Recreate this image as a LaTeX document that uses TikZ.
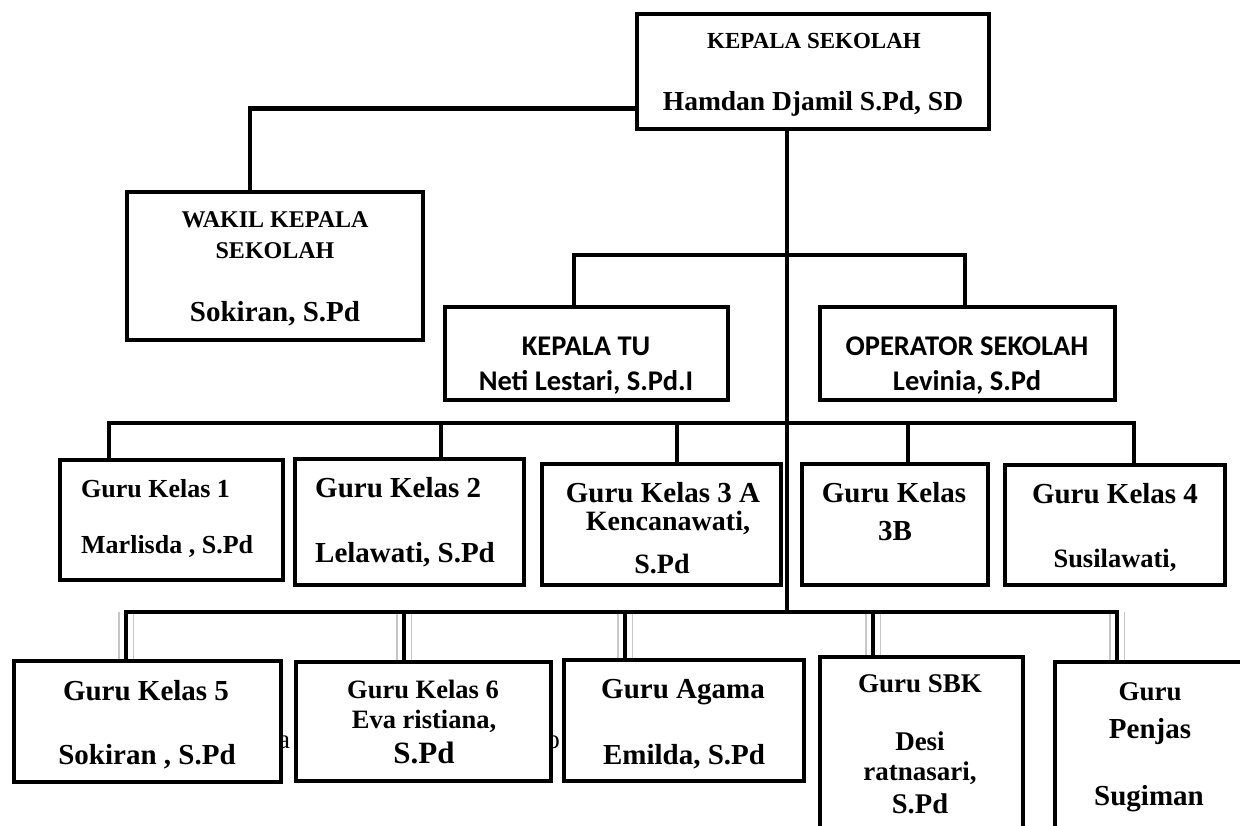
\documentclass[tikz,border=0pt]{standalone}
\usepackage{fontspec}
\setmainfont{Liberation Serif}
\newfontfamily\calibri{Carlito}
\usetikzlibrary{backgrounds}

\begin{document}
\begin{tikzpicture}[x=1pt, y=-1pt,
  box/.style 2 args={draw, line width=4.5pt, inner sep=0pt, minimum width=#1, minimum height=#2},
  tx/.style={anchor=base, inner sep=0pt, font=\bfseries\fontsize{#1}{#1}\selectfont},
  txl/.style={tx=#1, anchor=base west},
  cal/.style={anchor=base, inner sep=0pt, font=\calibri\bfseries\fontsize{#1}{#1}\selectfont},
  link/.style={line width=4.5pt},
  ghost/.style={link, preaction={draw, gray!45, line width=1.5pt, double=white, double distance=13pt}}]

\useasboundingbox (0,0) rectangle (1240,825);
\clip (0,0) rectangle (1240,825);

% Boxes
\node[box={352pt}{115pt}] (kepsek) at (813,71.5) {};
\node[box={296pt}{148pt}] (wakil) at (275,266) {};
\node[box={283pt}{93pt}] (tu) at (586.5,353.5) {};
\node[box={295pt}{93pt}] (op) at (967.5,353.5) {};

\node[box={223pt}{120pt}] (k1) at (171.5,520) {};
\node[box={229pt}{126pt}] (k2) at (409.5,522) {};
\node[box={239pt}{121pt}] (k3a) at (661.5,524.5) {};
\node[box={186pt}{121pt}] (k3b) at (895,524.5) {};
\node[box={220pt}{120pt}] (k4) at (1115,525) {};

% half hidden letters behind Guru Kelas 6
\node[anchor=base west, inner sep=0pt, font=\fontsize{27}{27}\selectfont] (hida) at (278,748) {a};
\node[anchor=base, inner sep=0pt, font=\fontsize{27}{27}\selectfont] (hido) at (553,748) {o};

\node[box={267pt}{121pt}] (k5) at (147.5,721.5) {};
\node[box={255pt}{119pt}, fill=white] (k6) at (423.5,721.5) {};
\node[box={240pt}{121pt}] (agama) at (684,720.5) {};
\node[box={203pt}{241pt}] (sbk) at (921.5,777.5) {};
\node[box={243pt}{236pt}] (penjas) at (1176.5,780) {};

% Names
\node[tx=23] (kepsek1) at (814,48) {KEPALA SEKOLAH};
\node[tx=27.5] (kepsek2) at (813,110) {Hamdan Djamil S.Pd, SD};

\node[tx=24] (wakil1) at (275,227) {WAKIL KEPALA};
\node[tx=24] (wakil2) at (275,258) {SEKOLAH};
\node[tx=29] (wakil3) at (275,321) {Sokiran, S.Pd};

\node[cal=28.5] (tu1) at (586,355) {KEPALA TU};
\node[cal=28.5] (tu2) at (586,390) {Neti Lestari, S.Pd.I};
\node[cal=28.5] (op1) at (967,355) {OPERATOR SEKOLAH};
\node[cal=28.5] (op2) at (967,390) {Levinia, S.Pd};

\node[txl=26] (k1a) at (81,497) {Guru Kelas 1};
\node[txl=26] (k1b) at (81,553) {Marlisda , S.Pd};
\node[txl=29] (k2a) at (315,497) {Guru Kelas 2};
\node[txl=29] (k2b) at (315,562) {Lelawati, S.Pd};
\node[tx=29] (k3aa) at (663,502) {Guru Kelas 3 A};
\node[tx=28] (k3ab) at (668,530) {Kencanawati,};
\node[tx=28] (k3ac) at (662,573) {S.Pd};
\node[tx=29] (k3ba) at (894,502) {Guru Kelas};
\node[tx=29] (k3bb) at (895,540) {3B};
\node[tx=29] (k4a) at (1115,503) {Guru Kelas 4};
\node[tx=26.5] (k4b) at (1115,567) {Susilawati,};

\node[tx=29] (k5a) at (146,700) {Guru Kelas 5};
\node[tx=29] (k5b) at (147,764) {Sokiran , S.Pd};
\node[tx=26.5] (k6a) at (423,698) {Guru Kelas 6};
\node[tx=26.5] (k6b) at (424,728) {Eva ristiana,};
\node[tx=31] (k6c) at (424,763) {S.Pd};
\node[tx=29] (agama1) at (683,698) {Guru Agama};
\node[tx=29] (agama2) at (684,764) {Emilda, S.Pd};
\node[tx=27] (sbk1) at (920,692) {Guru SBK};
\node[tx=27] (sbk2) at (920,750) {Desi};
\node[tx=27] (sbk3) at (920,780) {ratnasari,};
\node[tx=28.5] (sbk4) at (920,813) {S.Pd};
\node[tx=27] (penjas1) at (1150,700) {Guru};
\node[tx=29] (penjas2) at (1150,738) {Penjas};
\node[tx=29] (penjas3) at (1149,805) {Sugiman};

% Lines
\coordinate (bar2) at (787,255);
\coordinate (bar3) at (787,423);
\coordinate (bar4) at (787,612);

\begin{scope}[on background layer]
\draw[link] ([yshift=23pt]kepsek.south west) -| ([xshift=-25pt]wakil.north);
\draw[link] ([xshift=-26pt]kepsek.south) -- (bar4);

\draw[link] ([xshift=-12.5pt]tu.north) |- (bar2) -| ([xshift=-2.5pt]op.north);

\draw[link] ([xshift=-62.5pt]k1.north) |- (bar3) -| ([xshift=19pt]k4.north);
\draw[link] ([xshift=31.5pt]k2.north) |- (bar3);
\draw[link] ([xshift=15.5pt]k3a.north) |- (bar3);
\draw[link] ([xshift=13pt]k3b.north) |- (bar3);

\draw[ghost] ([xshift=-21.5pt]k5.north) -- ([xshift=-21.5pt]k5.north |- bar4);
\draw[ghost] ([xshift=-19.5pt]k6.north) -- ([xshift=-19.5pt]k6.north |- bar4);
\draw[ghost] ([xshift=-59pt]agama.north) -- ([xshift=-59pt]agama.north |- bar4);
\draw[ghost] ([xshift=-48.5pt]sbk.north) -- ([xshift=-48.5pt]sbk.north |- bar4);
\draw[ghost] ([xshift=-59.5pt]penjas.north) -- ([xshift=-59.5pt]penjas.north |- bar4);
\draw[link] ([xshift=-21.5pt]k5.north) |- (bar4) -| ([xshift=-59.5pt]penjas.north);
\end{scope}

\end{tikzpicture}
\end{document}
